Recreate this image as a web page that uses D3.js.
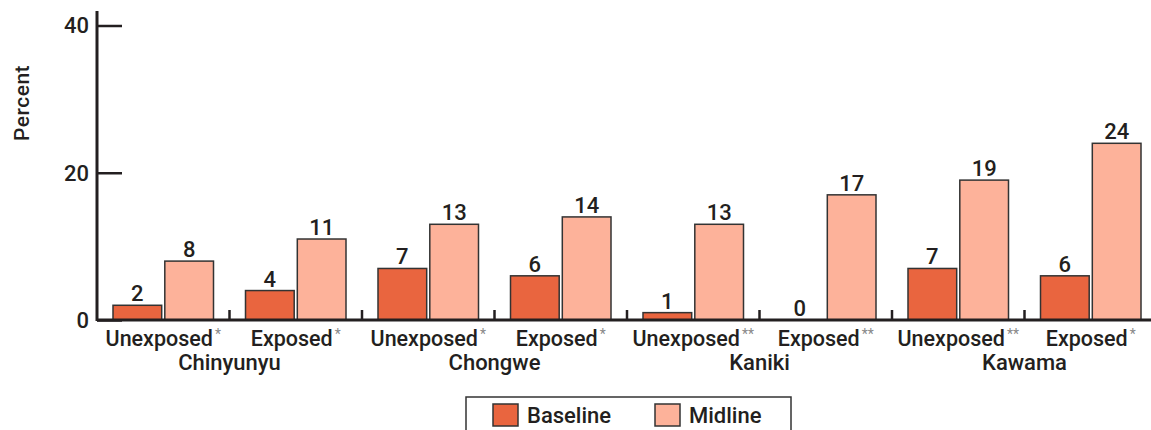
<!DOCTYPE html>
<html>
<head>
<meta charset="utf-8">
<script src="https://cdn.jsdelivr.net/npm/d3@7"></script>
<style>
  html, body { margin: 0; padding: 0; background: #fff; }
  svg { display: block; font-family: Roboto, "Liberation Sans", sans-serif; }
</style>
</head>
<body>
<svg id="chart" width="1151" height="430"></svg>
<script>
// Sites, each split into unexposed / exposed groups
const sites = ["Chinyunyu", "Chongwe", "Kaniki", "Kawama"];
const groups = ["Unexposed", "Exposed", "Unexposed", "Exposed", "Unexposed", "Exposed", "Unexposed", "Exposed"];
const significance = ["*", "*", "*", "*", "**", "**", "**", "*"];
const baseline = [2, 4, 7, 6, 1, 0, 7, 6];
const midline = [8, 11, 13, 14, 13, 17, 19, 24];
const seriesNames = ["Baseline", "Midline"];
const yTicks = [0, 20, 40];

const colors = { Baseline: "#E9653F", Midline: "#FDB29A" };
const ink = "#231F20";

const svg = d3.select("#chart");
const x0 = 97, yBase = 320;

const categories = groups.map((g, i) => i);
const x = d3.scaleBand().domain(categories).range([x0, x0 + 132.5 * groups.length]);
const inner = d3.scaleBand().domain(seriesNames).range([16, 116.5]).paddingInner(0.06);
const y = d3.scaleLinear().domain([0, 40]).range([yBase, 25.5]);

// Y axis
const yAxis = d3.axisRight(y).tickValues(yTicks).tickSize(25).tickFormat("");
const gy = svg.append("g").attr("transform", `translate(${x0},0)`).call(yAxis);
gy.select(".domain").remove();
gy.selectAll(".tick line").attr("stroke", ink).attr("stroke-width", 2.5);
svg.append("line").attr("x1", x0).attr("x2", x0).attr("y1", 11).attr("y2", yBase + 1)
  .attr("stroke", ink).attr("stroke-width", 3);
svg.append("g").selectAll("text").data(yTicks).join("text")
  .attr("x", x0 - 8).attr("y", d => y(d)).attr("dy", "0.36em")
  .attr("text-anchor", "end").attr("font-size", 22).attr("font-weight", 500)
  .attr("fill", ink).text(d => d);

svg.append("text")
  .attr("transform", `translate(29,103) rotate(-90)`)
  .attr("text-anchor", "middle").attr("font-size", 21).attr("font-weight", 500)
  .attr("letter-spacing", 0.5)
  .attr("fill", ink).text("Percent");

// Bars
const rows = [];
categories.forEach(i => {
  rows.push({ i, s: "Baseline", v: baseline[i] });
  rows.push({ i, s: "Midline", v: midline[i] });
});

const gBars = svg.append("g");
gBars.selectAll("rect").data(rows.filter(d => d.v > 0)).join("rect")
  .attr("x", d => x(d.i) + inner(d.s))
  .attr("width", inner.bandwidth())
  .attr("y", d => y(d.v))
  .attr("height", d => y(0) - y(d.v))
  .attr("fill", d => colors[d.s])
  .attr("stroke", "#333")
  .attr("stroke-width", 1.5);

gBars.selectAll("text").data(rows).join("text")
  .attr("x", d => x(d.i) + inner(d.s) + inner.bandwidth() / 2)
  .attr("y", d => y(d.v) - 4)
  .attr("text-anchor", "middle").attr("font-size", 22).attr("font-weight", 500)
  .attr("fill", ink).text(d => d.v);

// X axis baseline and group separators
svg.append("line").attr("x1", x0).attr("x2", 1151).attr("y1", yBase).attr("y2", yBase)
  .attr("stroke", ink).attr("stroke-width", 3);
svg.append("g").selectAll("line").data(categories.slice(1)).join("line")
  .attr("x1", d => x(d)).attr("x2", d => x(d))
  .attr("y1", yBase).attr("y2", yBase - 10)
  .attr("stroke", ink).attr("stroke-width", 2.5);

// Group labels with significance markers
const lbl = svg.append("g").selectAll("text").data(categories).join("text")
  .attr("x", d => x(d) + x.bandwidth() / 2)
  .attr("y", 346)
  .attr("text-anchor", "middle").attr("font-size", 21.5).attr("font-weight", 500)
  .attr("fill", ink);
lbl.append("tspan").text(d => groups[d]);
lbl.append("tspan").attr("font-size", 14).attr("fill", "#888").attr("dy", -7)
  .attr("dx", 2).attr("font-weight", 400).text(d => significance[d]);

// Site labels centred under each pair
svg.append("g").selectAll("text").data(sites).join("text")
  .attr("x", (d, k) => x(k * 2 + 1))
  .attr("y", 370)
  .attr("text-anchor", "middle").attr("font-size", 22).attr("font-weight", 500)
  .attr("fill", ink).text(d => d);

// Legend
const lg = svg.append("g");
lg.append("rect").attr("x", 466).attr("y", 397).attr("width", 325).attr("height", 40)
  .attr("fill", "#fff").attr("stroke", "#333").attr("stroke-width", 1.5);
const items = [{ s: "Baseline", x: 493 }, { s: "Midline", x: 655 }];
items.forEach(it => {
  lg.append("rect").attr("x", it.x).attr("y", 404).attr("width", 25).attr("height", 22)
    .attr("fill", colors[it.s]).attr("stroke", "#333").attr("stroke-width", 1.5);
  lg.append("text").attr("x", it.x + 34).attr("y", 423)
    .attr("font-size", 22).attr("font-weight", 500).attr("fill", ink).text(it.s);
});
</script>
</body>
</html>
